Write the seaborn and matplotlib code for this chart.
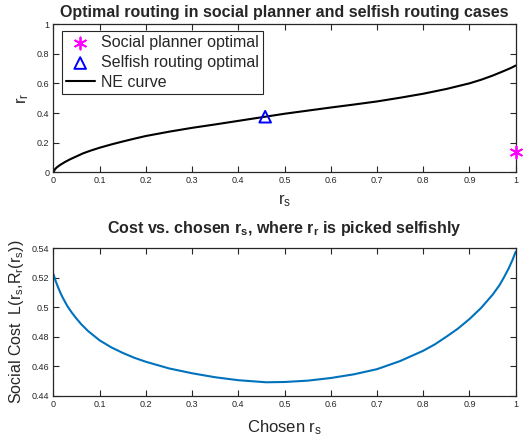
import numpy as np
import pandas as pd
import matplotlib
matplotlib.use("Agg")
import matplotlib.pyplot as plt
import seaborn as sns

# NE curve: r_r picked selfishly for each r_s
ne_rs = [0, 0.003, 0.007, 0.014, 0.025, 0.036, 0.05, 0.064, 0.08, 0.1, 0.125, 0.15, 0.175,
         0.2, 0.25, 0.3, 0.35, 0.4, 0.45, 0.5, 0.55, 0.6, 0.65, 0.7, 0.75, 0.8, 0.85,
         0.9, 0.925, 0.95, 0.975, 0.99, 1.0]
ne_rr = [0, 0.02, 0.033, 0.049, 0.07, 0.088, 0.108, 0.128, 0.146, 0.166, 0.188, 0.208, 0.227,
         0.245, 0.274, 0.30, 0.323, 0.347, 0.371, 0.395, 0.416, 0.437, 0.457, 0.478, 0.503,
         0.53, 0.562, 0.60, 0.624, 0.652, 0.684, 0.704, 0.72]

# optimal points
social_rs, social_rr = [1.0], [0.135]
selfish_rs, selfish_rr = [0.458], [0.375]

# social cost vs chosen r_s
cost_rs = [0, 0.005, 0.01, 0.015, 0.02, 0.03, 0.04, 0.05, 0.06, 0.075, 0.1, 0.125, 0.15,
           0.175, 0.2, 0.25, 0.3, 0.35, 0.4, 0.46, 0.5, 0.55, 0.6, 0.65, 0.7, 0.75, 0.8,
           0.825, 0.85, 0.875, 0.9, 0.925, 0.95, 0.965, 0.975, 0.985, 0.993, 1.0]
cost_val = [0.5224, 0.5175, 0.5135, 0.5098, 0.5065, 0.5008, 0.4962, 0.4922, 0.4885, 0.4838,
            0.4775, 0.4728, 0.469, 0.4657, 0.463, 0.4585, 0.4552, 0.4525, 0.4505, 0.4491,
            0.4493, 0.4502, 0.452, 0.4545, 0.458, 0.4635, 0.4705, 0.4748, 0.480, 0.4855,
            0.492, 0.4995, 0.5085, 0.515, 0.5205, 0.5265, 0.532, 0.5377]

ticks_x = [0, 0.1, 0.2, 0.3, 0.4, 0.5, 0.6, 0.7, 0.8, 0.9, 1]
ticks_top_y = [0, 0.2, 0.4, 0.6, 0.8, 1]
ticks_bot_y = [0.44, 0.46, 0.48, 0.5, 0.52, 0.54]

sns.set_style("ticks")
plt.rcParams['font.family'] = ['Liberation Sans', 'DejaVu Sans']
plt.rcParams['mathtext.fontset'] = 'custom'
plt.rcParams['mathtext.rm'] = 'Liberation Sans'
plt.rcParams['mathtext.it'] = 'Liberation Sans'
plt.rcParams['mathtext.bf'] = 'Liberation Sans:bold'

dark = '#262626'
fig = plt.figure(figsize=(5.26, 4.43), dpi=100)
ax1 = fig.add_axes([0.1017, 0.611, 0.8787, 0.3348])
ax2 = fig.add_axes([0.1017, 0.1068, 0.8787, 0.3327])

ne_df = pd.DataFrame({'rs': ne_rs, 'rr': ne_rr})
sns.lineplot(data=ne_df, x='rs', y='rr', color='black', linewidth=1.5, ax=ax1,
             label='NE curve', legend=False)
sns.scatterplot(x=social_rs, y=social_rr, marker=(6, 2, 0), s=75, color='magenta',
                linewidth=1.3, ax=ax1, label='Social planner optimal', legend=False,
                clip_on=False, zorder=5)
sns.scatterplot(x=selfish_rs, y=selfish_rr, marker='^', s=70, facecolor='none',
                edgecolor='blue', linewidth=1.4, ax=ax1, label='Selfish routing optimal',
                legend=False, zorder=5)

cost_df = pd.DataFrame({'rs': cost_rs, 'cost': cost_val})
sns.lineplot(data=cost_df, x='rs', y='cost', color='#0072BD', linewidth=1.5, ax=ax2)

for ax in (ax1, ax2):
    ax.set_xlim(0, 1)
    ax.set_xticks(ticks_x)
    ax.set_xticklabels([f'{t:g}' for t in ticks_x])
    for sp in ax.spines.values():
        sp.set_visible(True)
        sp.set_color(dark)
        sp.set_linewidth(0.9)
    ax.tick_params(direction='in', top=True, right=True, length=4, width=0.8,
                   color=dark, labelcolor=dark, labelsize=6.5, pad=3)
    ax.grid(False)

ax1.set_ylim(0, 1)
ax1.set_yticks(ticks_top_y)
ax1.set_yticklabels([f'{t:g}' for t in ticks_top_y])
ax2.set_ylim(0.44, 0.54)
ax2.set_yticks(ticks_bot_y)
ax2.set_yticklabels([f'{t:g}' for t in ticks_bot_y])

ax1.set_title('Optimal routing in social planner and selfish routing cases',
              fontsize=11.5, fontweight='bold', pad=5)
ax1.set_xlabel(r'r$_\mathrm{s}$', fontsize=12, color=dark, labelpad=5)
ax1.set_ylabel(r'r$_\mathrm{r}$', fontsize=12, color=dark, labelpad=4)

ax2.set_title(r'Cost vs. chosen r$_\mathbf{s}$, where r$_\mathbf{r}$ is picked selfishly',
              fontsize=11.5, fontweight='bold', pad=11)
ax2.set_xlabel(r'Chosen r$_\mathrm{s}$', fontsize=12, color=dark, labelpad=7)
ax2.set_ylabel(r'Social Cost  L(r$_\mathrm{s}$,R$_\mathrm{r}$(r$_\mathrm{s}$))',
               fontsize=11.5, color=dark, labelpad=4)

h, l = ax1.get_legend_handles_labels()
order = [l.index('Social planner optimal'), l.index('Selfish routing optimal'), l.index('NE curve')]
leg = ax1.legend([h[i] for i in order], [l[i] for i in order], loc='upper left',
                 bbox_to_anchor=(0.018, 0.95), fontsize=11.5, frameon=True, fancybox=False,
                 edgecolor=dark, framealpha=1, borderpad=0.25, labelspacing=0.3,
                 handlelength=1.8, handletextpad=0.4, borderaxespad=0)
leg.get_frame().set_linewidth(0.8)

fig.savefig('out.png', dpi=100)
